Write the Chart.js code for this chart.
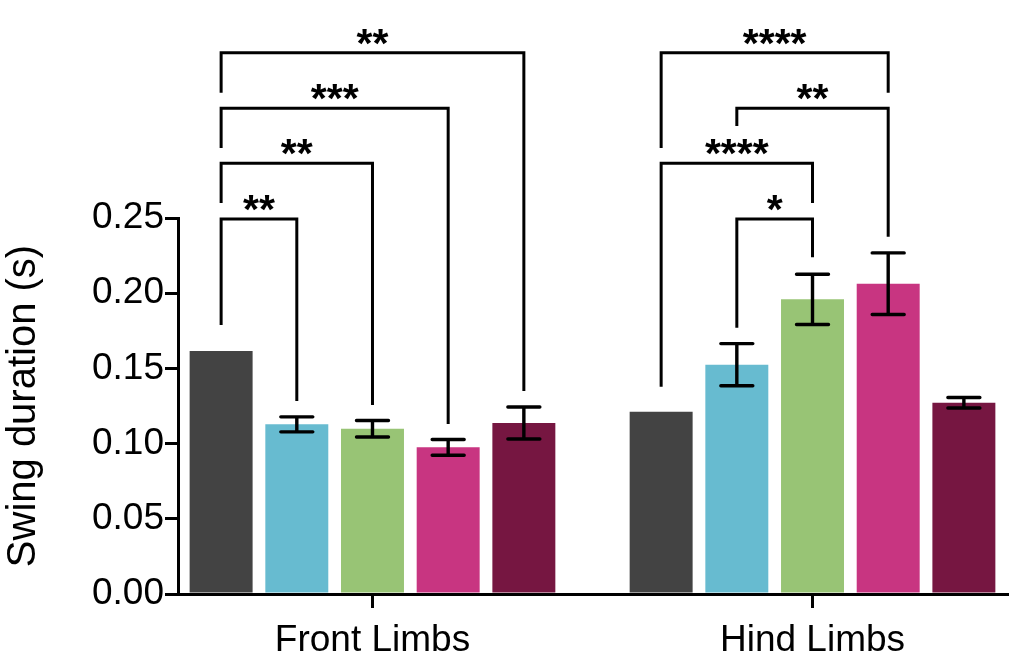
<!DOCTYPE html>
<html>
<head>
<meta charset="utf-8">
<script src="https://cdn.jsdelivr.net/npm/chart.js@4.4.1/dist/chart.umd.min.js"></script>
<style>
  html, body { margin: 0; padding: 0; background: #fff; }
  canvas { display: block; }
</style>
</head>
<body>
<canvas id="grafik" width="1024" height="663"></canvas>
<script>
// ---- data ----
const categories = ['Front Limbs', 'Hind Limbs'];
const frontMeans = [0.1616, 0.1128, 0.1099, 0.0975, 0.1137];
const frontErr   = [0.0,    0.0050, 0.0055, 0.0052, 0.0106];
const hindMeans  = [0.1212, 0.1525, 0.1959, 0.2063, 0.1272];
const hindErr    = [0.0,    0.0140, 0.0167, 0.0205, 0.0035];
const barColors  = ['#434343', '#67BBD0', '#98C475', '#C83581', '#761641'];
const yTicks     = [0, 0.05, 0.10, 0.15, 0.20, 0.25];

// significance brackets: group, bar from, bar to, label, level, left leg end, right leg end (y units)
const bracketGroup = [0, 0, 0, 0, 1, 1, 1, 1];
const bracketFrom  = [0, 0, 0, 0, 0, 1, 0, 1];
const bracketTo    = [4, 3, 2, 1, 3, 3, 2, 2];
const bracketLabel = ['**', '***', '**', '**', '****', '**', '****', '*'];
const bracketLevel = [0.3599, 0.3229, 0.2864, 0.2493, 0.3599, 0.3229, 0.2864, 0.2493];
const bracketLeft  = [0.3333, 0.2965, 0.2600, 0.1789, 0.2965, 0.3112, 0.1378, 0.1771];
const bracketRight = [0.1350, 0.1130, 0.1257, 0.1283, 0.3333, 0.2376, 0.2600, 0.2239];

const groupMeans = [frontMeans, hindMeans];
const groupErr = [frontErr, hindErr];

const FONT = '"Liberation Sans", Arial, Helvetica, sans-serif';

// one dataset per colour, one point per limb group
const datasets = barColors.map((warna, k) => ({
    data: categories.map((c, g) => ({ x: g, y: groupMeans[g][k] })),
    backgroundColor: warna,
    borderWidth: 0,
    categoryPercentage: 0.86,
    barPercentage: 0.832
}));

// error bars (mean +/- err)
const errorBarPlugin = {
    id: 'errorBars',
    afterDatasetsDraw(chart) {
        const ctx = chart.ctx;
        const y = chart.scales.y;
        ctx.save();
        ctx.strokeStyle = '#000';
        ctx.lineWidth = 3.4;
        ctx.lineCap = 'round';
        chart.data.datasets.forEach((ds, k) => {
            chart.getDatasetMeta(k).data.forEach((bar, g) => {
                const err = groupErr[g][k];
                if (!err) return;
                const m = groupMeans[g][k];
                const top = y.getPixelForValue(m + err);
                const bot = y.getPixelForValue(m - err);
                const half = 16;
                ctx.beginPath();
                ctx.moveTo(bar.x, top); ctx.lineTo(bar.x, bot);
                ctx.moveTo(bar.x - half, top); ctx.lineTo(bar.x + half, top);
                ctx.moveTo(bar.x - half, bot); ctx.lineTo(bar.x + half, bot);
                ctx.stroke();
            });
        });
        ctx.restore();
    }
};

// significance brackets drawn above the plot
const bracketPlugin = {
    id: 'brackets',
    afterDraw(chart) {
        const ctx = chart.ctx;
        const y = chart.scales.y;
        ctx.save();
        ctx.strokeStyle = '#000';
        ctx.fillStyle = '#000';
        ctx.lineWidth = 3;
        ctx.lineCap = 'butt';
        ctx.lineJoin = 'miter';
        ctx.font = 'bold 41px ' + FONT;
        ctx.textAlign = 'center';
        ctx.textBaseline = 'alphabetic';
        bracketLabel.forEach((label, i) => {
            const g = bracketGroup[i];
            const x1 = chart.getDatasetMeta(bracketFrom[i]).data[g].x;
            const x2 = chart.getDatasetMeta(bracketTo[i]).data[g].x;
            const yl = y.getPixelForValue(bracketLevel[i]);
            ctx.beginPath();
            ctx.moveTo(x1, y.getPixelForValue(bracketLeft[i]));
            ctx.lineTo(x1, yl);
            ctx.lineTo(x2, yl);
            ctx.lineTo(x2, y.getPixelForValue(bracketRight[i]));
            ctx.stroke();
            ctx.fillText(label, (x1 + x2) / 2, yl + 4);
        });
        ctx.restore();
    }
};

new Chart(document.getElementById('grafik').getContext('2d'), {
    type: 'bar',
    data: { datasets: datasets },
    options: {
        responsive: false,
        animation: false,
        layout: { padding: { top: 218, right: 17, left: 0, bottom: 0 } },
        plugins: { legend: { display: false }, tooltip: { enabled: false } },
        scales: {
            x: {
                type: 'linear',
                offset: false,
                min: -0.442,
                max: 1.442,
                afterBuildTicks: (s) => { s.ticks = categories.map((c, i) => ({ value: i })); },
                afterFit: (s) => { s.height = 69; },
                grid: { display: true, offset: false, drawOnChartArea: false, drawTicks: true, tickLength: 14, color: '#000', lineWidth: 3 },
                border: { display: true, color: '#000', width: 3 },
                ticks: {
                    color: '#000',
                    padding: 11,
                    maxRotation: 0,
                    font: { family: FONT, size: 37 },
                    callback: (v) => categories[v] ?? ''
                }
            },
            y: {
                min: 0,
                max: 0.25,
                afterBuildTicks: (s) => { s.ticks = yTicks.map(v => ({ value: v })); },
                afterFit: (s) => { s.width = 178; },
                grid: { display: true, drawOnChartArea: false, drawTicks: true, tickLength: 13, color: '#000', lineWidth: 3 },
                border: { display: true, color: '#000', width: 3 },
                ticks: {
                    color: '#000',
                    padding: 1,
                    font: { family: FONT, size: 37 },
                    callback: (v) => v.toFixed(2)
                },
                title: {
                    display: true,
                    text: 'Swing duration (s)',
                    color: '#000',
                    padding: 0,
                    font: { family: FONT, size: 40 }
                }
            }
        }
    },
    plugins: [errorBarPlugin, bracketPlugin]
});
</script>
</body>
</html>
